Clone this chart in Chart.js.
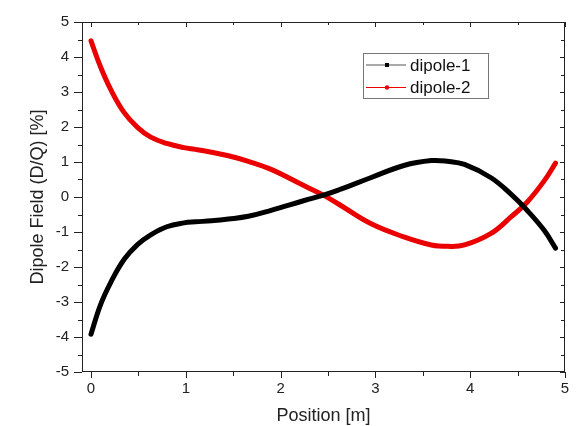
<!DOCTYPE html>
<html>
<head>
<meta charset="utf-8">
<title>Dipole Field</title>
<script src="https://cdn.jsdelivr.net/npm/chart.js@4.4.1/dist/chart.umd.min.js"></script>
<style>
  html, body { margin: 0; padding: 0; background: #fff; }
  #wrap { width: 583px; height: 426px; position: relative; }
</style>
</head>
<body>
<div id="wrap"><canvas id="dipoleField"></canvas></div>
<script>
// sampled field along the magnet, position in metres
const positions = [0, 0.10, 0.21, 0.35, 0.49, 0.63, 0.80, 0.98, 1.10, 1.27, 1.45, 1.66, 1.90, 2.25, 2.46, 2.61, 2.95, 3.30, 3.59, 3.76, 3.94, 4.22, 4.43, 4.60, 4.78, 4.90];
const dipole1 = [-3.92, -3.08, -2.43, -1.78, -1.36, -1.08, -0.85, -0.74, -0.71, -0.68, -0.63, -0.55, -0.38, -0.10, 0.06, 0.20, 0.55, 0.90, 1.04, 1.02, 0.93, 0.55, 0.08, -0.38, -0.95, -1.46];
const dipole2 = [4.46, 3.72, 3.06, 2.41, 1.99, 1.71, 1.53, 1.41, 1.36, 1.28, 1.18, 1.02, 0.79, 0.32, 0.04, -0.20, -0.76, -1.14, -1.37, -1.41, -1.37, -1.04, -0.57, -0.15, 0.46, 0.97];

const xTicks = [0, 1, 2, 3, 4, 5];
const yTicks = [-5, -4, -3, -2, -1, 0, 1, 2, 3, 4, 5];
const seriesNames = ['dipole-1', 'dipole-2'];
const seriesColors = ['#000000', 'rgb(235,0,0)'];

const fontFamily = '"Liberation Sans", Arial, sans-serif';
const axisColor = '#222';

function toPoints(values) {
  return positions.map((x, i) => ({ x: x, y: values[i] }));
}

// box frame with outward ticks on left/bottom and inward ticks on top/right
const axisFrame = {
  id: 'axisFrame',
  beforeDatasetsDraw(chart) {
    const { ctx, chartArea: a, scales: { x, y } } = chart;
    ctx.save();
    ctx.strokeStyle = axisColor;
    ctx.lineWidth = 1;
    ctx.strokeRect(a.left + 0.5, a.top + 0.5, a.right - a.left - 1, a.bottom - a.top - 1);
    ctx.beginPath();
    for (let i = 0; i < xTicks.length; i++) {
      const marks = [[xTicks[i], true]];
      if (i < xTicks.length - 1) marks.push([(xTicks[i] + xTicks[i + 1]) / 2, false]);
      marks.forEach(([v, major]) => {
        const px = Math.round(x.getPixelForValue(v)) + 0.5;
        ctx.moveTo(px, a.bottom);
        ctx.lineTo(px, a.bottom + (major ? 6 : 4));
        ctx.moveTo(px, a.top);
        ctx.lineTo(px, a.top + (major ? 5 : 3));
      });
    }
    for (let i = 0; i < yTicks.length; i++) {
      const marks = [[yTicks[i], true]];
      if (i < yTicks.length - 1) marks.push([(yTicks[i] + yTicks[i + 1]) / 2, false]);
      marks.forEach(([v, major]) => {
        const py = Math.round(y.getPixelForValue(v)) + 0.5;
        ctx.moveTo(a.left - (major ? 8 : 4), py);
        ctx.lineTo(a.left, py);
        ctx.moveTo(a.right, py);
        ctx.lineTo(a.right - (major ? 5 : 4), py);
      });
    }
    ctx.stroke();
    ctx.restore();
  }
};

// legend box inside the plot, top right
const boxLegend = {
  id: 'boxLegend',
  afterDraw(chart) {
    const { ctx, chartArea: a } = chart;
    const left = a.left + 281, top = a.top + 31, w = 125, h = 45;
    ctx.save();
    ctx.fillStyle = '#fff';
    ctx.fillRect(left, top, w, h);
    ctx.strokeStyle = '#777';
    ctx.lineWidth = 1;
    ctx.strokeRect(left + 0.5, top + 0.5, w, h);
    ctx.font = '17px ' + fontFamily;
    ctx.textBaseline = 'middle';
    seriesNames.forEach((name, i) => {
      const rowY = top + 12 + i * 22.5;
      ctx.strokeStyle = i === 0 ? '#555' : seriesColors[i];
      ctx.beginPath();
      ctx.moveTo(left + 3, rowY);
      ctx.lineTo(left + 43, rowY);
      ctx.stroke();
      ctx.fillStyle = seriesColors[i];
      if (i === 0) {
        ctx.fillRect(left + 22, rowY - 2, 4, 4);
      } else {
        ctx.beginPath();
        ctx.arc(left + 24, rowY, 2.2, 0, Math.PI * 2);
        ctx.fill();
      }
      ctx.fillStyle = '#111';
      ctx.fillText(name, left + 47, rowY + 1);
    });
    ctx.restore();
  }
};

const dipoleField = document.getElementById('dipoleField');

new Chart(dipoleField, {
  type: 'line',
  data: {
    datasets: seriesNames.map((name, i) => ({
      label: name,
      data: toPoints(i === 0 ? dipole1 : dipole2),
      borderColor: seriesColors[i],
      backgroundColor: seriesColors[i],
      borderWidth: 5,
      borderCapStyle: 'round',
      borderJoinStyle: 'round',
      pointRadius: 0,
      fill: false,
      tension: 0.4
    }))
  },
  options: {
    responsive: true,
    maintainAspectRatio: false,
    animation: false,
    layout: { padding: { top: 14, right: 18, left: 0, bottom: 0 } },
    plugins: {
      legend: { display: false },
      tooltip: { enabled: false }
    },
    scales: {
      x: {
        type: 'linear',
        min: -0.095,
        max: 5,
        afterBuildTicks: (scale) => { scale.ticks = xTicks.map(v => ({ value: v })); },
        afterFit: (scale) => { scale.height = 54; },
        grid: { display: false, drawTicks: false },
        border: { display: false },
        ticks: {
          padding: 8,
          color: axisColor,
          font: { family: fontFamily, size: 15 }
        },
        title: {
          display: true,
          text: 'Position [m]',
          color: '#222',
          font: { family: fontFamily, size: 18, lineHeight: 1 },
          padding: { top: 0, bottom: 1 }
        }
      },
      y: {
        type: 'linear',
        min: -5,
        max: 5,
        afterBuildTicks: (scale) => { scale.ticks = yTicks.map(v => ({ value: v })); },
        afterFit: (scale) => { scale.width = 82; },
        grid: { display: false, drawTicks: false },
        border: { display: false },
        ticks: {
          padding: 13,
          color: axisColor,
          font: { family: fontFamily, size: 15 }
        },
        title: {
          display: true,
          text: 'Dipole Field (D/Q) [%]',
          color: '#222',
          font: { family: fontFamily, size: 18, lineHeight: 1 },
          padding: { top: 29, bottom: 0 }
        }
      }
    }
  },
  plugins: [axisFrame, boxLegend]
});
</script>
</body>
</html>
